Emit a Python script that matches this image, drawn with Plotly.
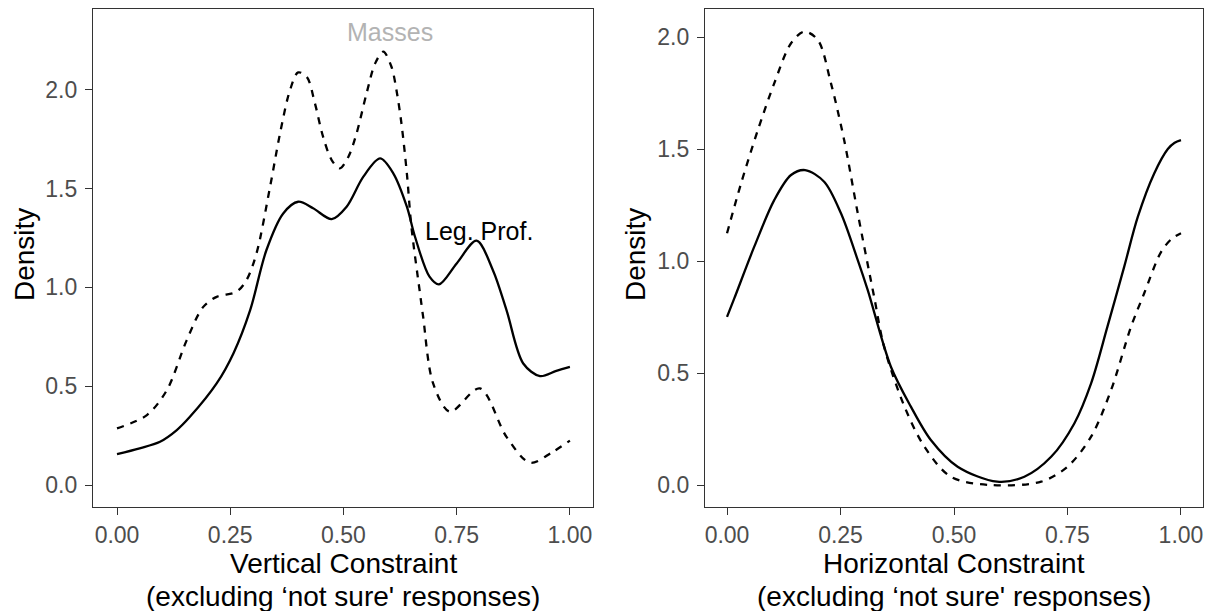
import plotly.graph_objects as go

# ---- data ----
vert_leg_x = [0, 0.05, 0.095, 0.132, 0.161, 0.22, 0.257, 0.294, 0.33, 0.367, 0.400, 0.433, 0.474, 0.507,
              0.544, 0.581, 0.610, 0.640, 0.658, 0.69, 0.711, 0.75, 0.794, 0.83, 0.86, 0.897, 0.934, 0.97, 1.0]
vert_leg_y = [0.157, 0.186, 0.219, 0.278, 0.345, 0.514, 0.666, 0.885, 1.189, 1.374, 1.433, 1.40, 1.345, 1.408,
              1.56, 1.652, 1.577, 1.408, 1.256, 1.054, 1.015, 1.121, 1.236, 1.087, 0.885, 0.615, 0.551, 0.578, 0.598]

vert_mass_x = [0, 0.066, 0.11, 0.154, 0.19, 0.22, 0.264, 0.286, 0.308, 0.338, 0.360, 0.382, 0.400, 0.419,
               0.437, 0.455, 0.474, 0.492, 0.511, 0.529, 0.551, 0.570, 0.588, 0.606, 0.617, 0.628, 0.640,
               0.650, 0.669, 0.676, 0.698, 0.735, 0.801, 0.86, 0.912, 0.96, 1.0]
vert_mass_y = [0.287, 0.354, 0.48, 0.733, 0.90, 0.952, 0.978, 1.037, 1.172, 1.509, 1.779, 1.998, 2.087, 2.065,
               1.931, 1.762, 1.644, 1.602, 1.661, 1.779, 1.981, 2.133, 2.192, 2.116, 1.998, 1.83, 1.577,
               1.307, 0.97, 0.851, 0.514, 0.371, 0.489, 0.244, 0.113, 0.165, 0.225]

horiz_leg_x = [0, 0.016, 0.06, 0.104, 0.141, 0.172, 0.214, 0.251, 0.288, 0.31, 0.361, 0.405, 0.449,
               0.508, 0.595, 0.655, 0.714, 0.765, 0.802, 0.838, 0.875, 0.905, 0.941, 0.971, 0.986, 1.0]
horiz_leg_y = [0.751, 0.833, 1.064, 1.272, 1.384, 1.406, 1.354, 1.213, 1.004, 0.87, 0.528, 0.35, 0.201,
               0.082, 0.015, 0.037, 0.126, 0.275, 0.454, 0.707, 0.975, 1.198, 1.391, 1.50, 1.528, 1.54]

horiz_mass_x = [0, 0.031, 0.068, 0.104, 0.141, 0.17, 0.2, 0.229, 0.258, 0.288, 0.324, 0.346, 0.391,
                0.435, 0.493, 0.581, 0.692, 0.75, 0.802, 0.846, 0.89, 0.919, 0.956, 0.98, 1.0]
horiz_mass_y = [1.124, 1.347, 1.585, 1.793, 1.972, 2.024, 1.987, 1.793, 1.54, 1.213, 0.841, 0.617, 0.35,
                0.171, 0.037, 0.0, 0.015, 0.082, 0.216, 0.424, 0.707, 0.856, 1.04, 1.10, 1.124]

x_ticks = [0, 0.25, 0.5, 0.75, 1.0]
x_tick_labels = ["0.00", "0.25", "0.50", "0.75", "1.00"]
y_ticks = [0, 0.5, 1.0, 1.5, 2.0]
y_tick_labels = ["0.0", "0.5", "1.0", "1.5", "2.0"]

label_masses = ("Masses", 0.603, 2.29)
label_leg = ("Leg. Prof.", 0.80, 1.285)

# ---- figure ----
W, H = 1211, 611
FONT = "Liberation Sans, Arial, Helvetica, sans-serif"

fig = go.Figure()
line_solid = dict(color="black", width=2.3, shape="spline", smoothing=0.9)
line_dash = dict(color="black", width=2.3, shape="spline", smoothing=0.9, dash="7px,7px")

fig.add_trace(go.Scatter(x=vert_mass_x, y=vert_mass_y, mode="lines", line=line_dash,
                         xaxis="x", yaxis="y", showlegend=False))
fig.add_trace(go.Scatter(x=vert_leg_x, y=vert_leg_y, mode="lines", line=line_solid,
                         xaxis="x", yaxis="y", showlegend=False))
fig.add_trace(go.Scatter(x=horiz_mass_x, y=horiz_mass_y, mode="lines", line=line_dash,
                         xaxis="x2", yaxis="y2", showlegend=False))
fig.add_trace(go.Scatter(x=horiz_leg_x, y=horiz_leg_y, mode="lines", line=line_solid,
                         xaxis="x2", yaxis="y2", showlegend=False))

def px_x(p):
    return p / W

def px_y(p):
    return 1 - p / H

axis_common = dict(
    showline=True, mirror=True, linecolor="#333333", linewidth=1.2,
    showgrid=False, zeroline=False, ticks="outside", ticklen=7,
    tickcolor="#333333", tickwidth=1.2,
    tickfont=dict(family=FONT, size=23, color="#4D4D4D"),
)

ydom = [px_y(507), px_y(9)]
fig.update_layout(
    width=W, height=H,
    margin=dict(l=0, r=0, t=0, b=0),
    paper_bgcolor="white", plot_bgcolor="white",
    font=dict(family=FONT),
    xaxis=dict(domain=[px_x(93), px_x(593)], range=[-0.053, 1.051], anchor="y",
               tickvals=x_ticks, ticktext=x_tick_labels, **axis_common),
    yaxis=dict(domain=ydom, range=[-0.111, 2.408], anchor="x", ticklabelstandoff=3,
               tickvals=y_ticks, ticktext=y_tick_labels, **axis_common),
    xaxis2=dict(domain=[px_x(705), px_x(1203)], range=[-0.0485, 1.0485], anchor="y2",
                tickvals=x_ticks, ticktext=x_tick_labels, **axis_common),
    yaxis2=dict(domain=ydom, range=[-0.098, 2.125], anchor="x2", ticklabelstandoff=3,
                tickvals=y_ticks, ticktext=y_tick_labels, **axis_common),
)

annots = []
# in-panel labels
annots.append(dict(text=label_masses[0], x=label_masses[1], y=label_masses[2], xref="x", yref="y",
                   showarrow=False, font=dict(family=FONT, size=25, color="#B3B3B3"),
                   xanchor="center", yanchor="middle"))
annots.append(dict(text=label_leg[0], x=label_leg[1], y=label_leg[2], xref="x", yref="y",
                   showarrow=False, font=dict(family=FONT, size=25, color="black"),
                   xanchor="center", yanchor="middle"))
# axis titles
title_font = dict(family=FONT, size=28, color="black")
for cx, t1 in [(343, "Vertical Constraint"), (954, "Horizontal Constraint")]:
    annots.append(dict(text=t1, x=px_x(cx), y=px_y(563), xref="paper", yref="paper",
                       showarrow=False, font=title_font, xanchor="center", yanchor="middle"))
    annots.append(dict(text="(excluding \u2018not sure' responses)", x=px_x(cx), y=px_y(596),
                       xref="paper", yref="paper", showarrow=False, font=title_font,
                       xanchor="center", yanchor="middle"))
for cx in [24, 635]:
    annots.append(dict(text="Density", x=px_x(cx), y=px_y(255), xref="paper", yref="paper",
                       showarrow=False, font=title_font, textangle=-90,
                       xanchor="center", yanchor="middle"))
fig.update_layout(annotations=annots)

fig.write_html("out.html")
